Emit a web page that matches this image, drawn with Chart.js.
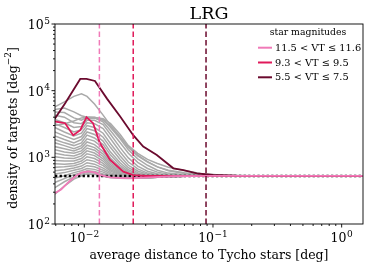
<!DOCTYPE html>
<html>
<head>
<meta charset="utf-8">
<script src="https://cdn.jsdelivr.net/npm/chart.js@4.4.0/dist/chart.umd.min.js"></script>
<style>
  html, body { margin: 0; padding: 0; background: #fff; }
</style>
</head>
<body>
<canvas id="densityChart" width="374" height="267"></canvas>
<script>
// axis limits
const xLimits = [0.00592, 1.465];
const yLimits = [100, 100000];
const xDecades = [-3, -2, -1, 0];
const yDecades = [2, 3, 4, 5];

// mean density level (dotted line)
const meanDensity = 525;

// star magnitude bins shown in legend
const binLabels = ['11.5 < VT \u2264 11.6', '9.3 < VT \u2264 9.5', '5.5 < VT \u2264 7.5'];
const binColors = ['#f07ab8', '#e0195a', '#6b0a2e'];
const binRadius = [0.0131, 0.024, 0.0883];

const pinkX = [0.0059, 0.0066, 0.0075, 0.0085, 0.0095, 0.0108, 0.0122, 0.0131, 0.016, 0.02, 0.024, 0.035, 0.05, 0.1, 1.5];
const pinkY = [290, 330, 420, 520, 590, 615, 590, 545, 500, 488, 487, 505, 520, 526, 526];

const redX = [0.0059, 0.0071, 0.0082, 0.0093, 0.0104, 0.0117, 0.0132, 0.0158, 0.0201, 0.024, 0.03, 0.05, 0.1, 1.5];
const redY = [3450, 3250, 2150, 2550, 4000, 3250, 1650, 920, 610, 540, 525, 525, 526, 526];

const darkX = [0.0059, 0.0071, 0.0093, 0.0104, 0.0121, 0.015, 0.019, 0.024, 0.0287, 0.0366, 0.0492, 0.0589, 0.0748, 0.1, 0.15, 0.3, 1.5];
const darkY = [3800, 6500, 15000, 15000, 14000, 7600, 4100, 2150, 1450, 1080, 685, 645, 575, 543, 530, 527, 527];

// other magnitude bins (grey)
const grayX = [0.0059, 0.007, 0.0083, 0.0095, 0.0105, 0.012, 0.014, 0.016, 0.019, 0.022, 0.026, 0.031, 0.037, 0.045, 0.06, 0.08, 0.12, 0.2, 1.5];
const grayY = [
  [5700, 6800, 8200, 9000, 8200, 6300, 4300, 3000, 2000, 1400, 1050, 850, 720, 640, 585, 550, 535, 528, 526],
  [5200, 5500, 4800, 4200, 4000, 3900, 3600, 2900, 2000, 1450, 1080, 860, 720, 630, 570, 542, 530, 527, 526],
  [4800, 4700, 3900, 3600, 4000, 4000, 3700, 2800, 1900, 1300, 950, 760, 640, 580, 550, 534, 527, 526, 526],
  [3000, 3200, 3500, 3900, 4000, 3950, 3800, 3200, 2200, 1500, 1150, 930, 810, 710, 635, 572, 540, 530, 526],
  [4300, 4000, 3300, 3200, 3800, 3900, 3400, 2500, 1650, 1150, 840, 680, 600, 560, 540, 530, 526, 526, 526],
  [3700, 3300, 2800, 2900, 3600, 3600, 3100, 2200, 1400, 980, 740, 620, 568, 545, 533, 528, 526, 526, 526],
  [3200, 2800, 2400, 2600, 3300, 3200, 2700, 1900, 1200, 850, 670, 580, 548, 535, 529, 527, 526, 526, 526],
  [2800, 2400, 2100, 2300, 3000, 2800, 2300, 1600, 1050, 760, 625, 560, 538, 530, 527, 526, 526, 526, 526],
  [2400, 2100, 1850, 2050, 2700, 2500, 2000, 1400, 930, 700, 590, 545, 532, 527, 526, 526, 526, 526, 526],
  [2100, 1850, 1650, 1850, 2400, 2200, 1750, 1200, 830, 650, 565, 535, 528, 526, 526, 526, 526, 526, 526],
  [1850, 1650, 1500, 1650, 2150, 1950, 1550, 1080, 760, 615, 548, 528, 525, 525, 526, 526, 526, 526, 526],
  [1650, 1500, 1350, 1500, 1900, 1750, 1380, 970, 710, 590, 537, 523, 522, 524, 525, 526, 526, 526, 526],
  [1450, 1350, 1250, 1380, 1700, 1550, 1220, 890, 670, 565, 527, 518, 519, 522, 524, 525, 526, 526, 526],
  [1300, 1200, 1150, 1250, 1520, 1400, 1120, 830, 635, 548, 518, 512, 515, 520, 523, 525, 526, 526, 526],
  [1150, 1080, 1050, 1150, 1380, 1280, 1030, 775, 612, 537, 512, 508, 512, 518, 522, 525, 526, 526, 526],
  [1020, 980, 960, 1050, 1250, 1160, 950, 730, 590, 525, 506, 504, 510, 517, 522, 525, 526, 526, 526],
  [900, 880, 880, 960, 1130, 1060, 880, 690, 575, 518, 502, 502, 508, 516, 521, 524, 526, 526, 526],
  [800, 790, 810, 880, 1020, 960, 810, 650, 560, 510, 498, 500, 507, 515, 521, 524, 526, 526, 526],
  [710, 720, 750, 810, 920, 870, 750, 620, 545, 503, 495, 498, 506, 515, 521, 524, 526, 526, 526],
  [630, 650, 690, 740, 830, 790, 690, 590, 530, 498, 492, 496, 505, 514, 520, 524, 526, 526, 526],
  [560, 590, 640, 680, 750, 720, 640, 565, 518, 494, 490, 495, 504, 514, 520, 524, 526, 526, 526],
  [490, 530, 590, 630, 680, 660, 600, 540, 508, 490, 488, 494, 503, 513, 520, 524, 526, 526, 526],
  [420, 480, 550, 590, 630, 615, 565, 520, 498, 487, 487, 493, 503, 513, 520, 524, 526, 526, 526],
  [350, 430, 510, 560, 590, 580, 540, 505, 490, 484, 486, 492, 502, 512, 520, 524, 526, 526, 526],
  [280, 370, 470, 530, 560, 555, 520, 495, 485, 482, 485, 491, 502, 512, 519, 524, 526, 526, 526]
];

const serif = '"DejaVu Serif", serif';

function toPoints(xs, ys) {
    return xs.map((x, i) => ({ x: x, y: ys[i] }));
}

const datasets = [];

// vertical dashed lines at the bin radii
binRadius.forEach((r, i) => {
    datasets.push({
        data: [{ x: r, y: yLimits[0] }, { x: r, y: yLimits[1] }],
        borderColor: binColors[i],
        borderWidth: 1.5,
        borderDash: [5.5, 3],
        order: 0
    });
});

datasets.push({ label: binLabels[0], data: toPoints(pinkX, pinkY), borderColor: binColors[0], borderWidth: 1.8, order: 1 });
datasets.push({ label: binLabels[1], data: toPoints(redX, redY), borderColor: binColors[1], borderWidth: 1.8, order: 1 });
datasets.push({ label: binLabels[2], data: toPoints(darkX, darkY), borderColor: binColors[2], borderWidth: 1.8, order: 1 });

datasets.push({
    data: [{ x: xLimits[0], y: meanDensity }, { x: xLimits[1], y: meanDensity }],
    borderColor: '#000',
    borderWidth: 2.3,
    borderDash: [2.3, 2.3],
    order: 2
});

grayY.forEach(ys => {
    datasets.push({ data: toPoints(grayX, ys), borderColor: '#aaaaaa', borderWidth: 1.5, order: 5 });
});

// draws frame, log ticks, labels, title and legend
const decorPlugin = {
    id: 'decor',
    afterDraw(chart) {
        const c = chart.ctx;
        const area = chart.chartArea;
        const xs = chart.scales.x, ys = chart.scales.y;
        c.save();
        c.strokeStyle = '#000';
        c.lineWidth = 0.9;
        c.strokeRect(area.left, area.top, area.right - area.left, area.bottom - area.top);

        // ticks
        c.beginPath();
        xDecades.forEach(d => {
            for (let m = 1; m < 10; m++) {
                const v = m * Math.pow(10, d);
                if (v < xLimits[0] || v > xLimits[1]) continue;
                const px = xs.getPixelForValue(v);
                const len = m === 1 ? 3.5 : 2;
                c.moveTo(px, area.bottom);
                c.lineTo(px, area.bottom + len);
            }
        });
        yDecades.forEach(d => {
            for (let m = 1; m < 10; m++) {
                const v = m * Math.pow(10, d);
                if (v < yLimits[0] || v > yLimits[1]) continue;
                const py = ys.getPixelForValue(v);
                const len = m === 1 ? 3.5 : 2;
                c.moveTo(area.left, py);
                c.lineTo(area.left - len, py);
            }
        });
        c.stroke();

        // tick labels
        c.fillStyle = '#000';
        const powLabel = (x, y, exp, align) => {
            const e = exp < 0 ? '\u2212' + (-exp) : String(exp);
            c.font = '12.5px ' + serif;
            const wb = c.measureText('10').width;
            c.font = '9px ' + serif;
            const we = c.measureText(e).width;
            const total = wb + we + 0.5;
            let x0 = align === 'center' ? x - total / 2 : x - total;
            c.textBaseline = 'alphabetic';
            c.textAlign = 'left';
            c.font = '12.5px ' + serif;
            c.fillText('10', x0, y);
            c.font = '9px ' + serif;
            c.fillText(e, x0 + wb + 0.5, y - 5.5);
        };
        xDecades.forEach(d => {
            const v = Math.pow(10, d);
            if (v < xLimits[0] || v > xLimits[1]) return;
            powLabel(xs.getPixelForValue(v), area.bottom + 18, d, 'center');
        });
        yDecades.forEach(d => {
            powLabel(area.left - 5, ys.getPixelForValue(Math.pow(10, d)) + 5, d, 'right');
        });

        // axis titles
        c.font = '12.5px ' + serif;
        c.textAlign = 'center';
        c.textBaseline = 'middle';
        c.fillText('average distance to Tycho stars [deg]', (area.left + area.right) / 2, 256);
        c.save();
        c.translate(14, (area.top + area.bottom) / 2 + 4);
        c.rotate(-Math.PI / 2);
        c.font = '12.5px ' + serif;
        const t1 = 'density of targets [deg';
        const w1 = c.measureText(t1).width;
        c.font = '9px ' + serif;
        const w2 = c.measureText('\u22122').width;
        c.font = '12.5px ' + serif;
        const w3 = c.measureText(']').width;
        let sx = -(w1 + w2 + w3) / 2;
        c.textAlign = 'left';
        c.fillText(t1, sx, 0);
        c.font = '9px ' + serif;
        c.fillText('\u22122', sx + w1, -5);
        c.font = '12.5px ' + serif;
        c.fillText(']', sx + w1 + w2, 0);
        c.restore();

        // title
        c.font = '17.5px ' + serif;
        c.textAlign = 'center';
        c.textBaseline = 'middle';
        c.fillText('LRG', (area.left + area.right) / 2, 14);

        // legend
        c.font = '9.3px ' + serif;
        c.fillText('star magnitudes', 308, 33);
        const legendSets = chart.data.datasets.filter(ds => ds.label);
        legendSets.forEach((ds, i) => {
            const y = 47.7 + i * 14.8;
            c.strokeStyle = ds.borderColor;
            c.lineWidth = 2;
            c.setLineDash([]);
            c.beginPath();
            c.moveTo(258, y);
            c.lineTo(272, y);
            c.stroke();
            c.fillStyle = '#000';
            c.font = '9.8px ' + serif;
            c.textAlign = 'left';
            c.fillText(ds.label, 275, y + 0.5);
        });
        c.restore();
    }
};

new Chart(document.getElementById('densityChart'), {
    type: 'line',
    data: { datasets: datasets },
    options: {
        responsive: false,
        devicePixelRatio: 1,
        animation: false,
        events: [],
        layout: { padding: { left: 0, top: 24, right: 11, bottom: 0 } },
        elements: {
            point: { radius: 0 },
            line: { tension: 0, fill: false }
        },
        scales: {
            x: {
                type: 'logarithmic',
                min: xLimits[0],
                max: xLimits[1],
                ticks: { display: false },
                grid: { display: false },
                border: { display: false },
                afterFit: scale => { scale.height = 43; }
            },
            y: {
                type: 'logarithmic',
                min: yLimits[0],
                max: yLimits[1],
                ticks: { display: false },
                grid: { display: false },
                border: { display: false },
                afterFit: scale => { scale.width = 55; }
            }
        },
        plugins: {
            legend: { display: false },
            tooltip: { enabled: false }
        }
    },
    plugins: [decorPlugin]
});
</script>
</body>
</html>
